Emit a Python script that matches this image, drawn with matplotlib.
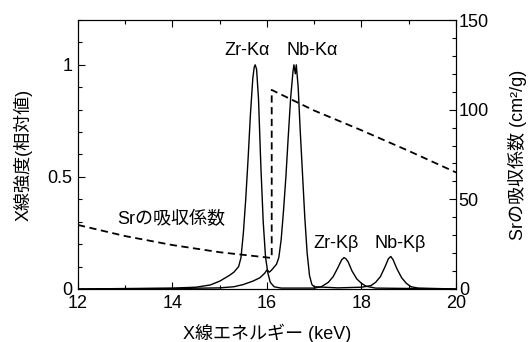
import matplotlib
matplotlib.use("Agg")
import matplotlib.pyplot as plt
from matplotlib.ticker import MultipleLocator

plt.rcParams['font.family'] = ['Liberation Sans', 'Noto Sans CJK JP', 'DejaVu Sans']

# Zr spectrum (energy keV, relative intensity)
zr_E = [12.0, 13.0, 14.0, 14.5, 14.8, 15.0, 15.2, 15.3, 15.4, 15.45, 15.5, 15.55, 15.6,
        15.65, 15.7, 15.73, 15.75, 15.78, 15.82, 15.87, 15.92, 15.97, 16.02, 16.07,
        16.15, 16.3, 17.0, 17.15, 17.3, 17.4, 17.5, 17.58, 17.63, 17.67, 17.72, 17.8,
        17.9, 18.0, 18.1, 18.3, 20.0]
zr_I = [0.0, 0.002, 0.004, 0.008, 0.018, 0.035, 0.06, 0.075, 0.10, 0.14, 0.25, 0.40,
        0.58, 0.78, 0.94, 0.99, 1.0, 0.98, 0.85, 0.55, 0.30, 0.14, 0.07, 0.03,
        0.01, 0.004, 0.004, 0.01, 0.03, 0.055, 0.095, 0.13, 0.14, 0.135, 0.12, 0.08,
        0.045, 0.025, 0.012, 0.004, 0.0]

# Nb spectrum
nb_E = [12.0, 14.0, 15.0, 15.3, 15.5, 15.7, 15.85, 15.95, 16.0, 16.05, 16.1, 16.2,
        16.25, 16.3, 16.35, 16.4, 16.45, 16.5, 16.55, 16.57, 16.6, 16.62, 16.66,
        16.7, 16.75, 16.8, 16.85, 16.9, 16.95, 17.0, 17.5, 18.0, 18.2, 18.3, 18.4,
        18.5, 18.57, 18.62, 18.67, 18.75, 18.85, 18.95, 19.05, 19.2, 20.0]
nb_I = [0.0, 0.002, 0.005, 0.01, 0.02, 0.035, 0.05, 0.07, 0.085, 0.075, 0.085, 0.11,
        0.14, 0.22, 0.35, 0.50, 0.68, 0.85, 0.97, 1.0, 0.96, 1.0, 0.90,
        0.72, 0.52, 0.32, 0.16, 0.06, 0.02, 0.01, 0.005, 0.008, 0.015, 0.03, 0.055,
        0.10, 0.135, 0.145, 0.13, 0.09, 0.05, 0.025, 0.01, 0.004, 0.0]

# Sr mass absorption coefficient (cm2/g)
sr_E = [12.0, 13.0, 14.0, 15.0, 16.1, 16.1, 17.0, 18.0, 19.0, 20.0]
sr_mu = [35.7, 29.5, 24.5, 20.5, 17.3, 111.0, 99.5, 88.5, 77.0, 65.0]

fig = plt.figure(figsize=(5.29, 3.42), dpi=100)
ax = fig.add_axes([0.1474, 0.155, 0.862 - 0.1474, 0.9415 - 0.155])
ax2 = ax.twinx()

ax.plot(zr_E, zr_I, color='black', lw=1.0)
ax.plot(nb_E, nb_I, color='black', lw=1.0)
ax2.plot(sr_E, sr_mu, color='black', lw=1.3, linestyle=(0, (4, 2.5)))

ax.set_xlim(12, 20)
ax.set_ylim(0, 1.2)
ax2.set_ylim(0, 150)

ax.xaxis.set_major_locator(MultipleLocator(2))
ax.xaxis.set_minor_locator(MultipleLocator(1))
ax.yaxis.set_major_locator(MultipleLocator(0.5))
ax.yaxis.set_minor_locator(MultipleLocator(0.1))
ax2.yaxis.set_major_locator(MultipleLocator(50))
ax2.yaxis.set_minor_locator(MultipleLocator(10))
ax.set_yticks([0, 0.5, 1])
ax.set_yticklabels(['0', '0.5', '1'])

for a in (ax, ax2):
    a.tick_params(which='both', direction='in', labelsize=13, width=0.8)
    a.tick_params(which='major', length=5)
    a.tick_params(which='minor', length=3)
ax.tick_params(which='both', top=True, right=False)
ax.tick_params(axis='x', pad=4)
ax.tick_params(axis='y', pad=4)
ax2.tick_params(axis='y', pad=2)

ax.set_xlabel('X線エネルギー (keV)', fontsize=13, va='center')
ax.xaxis.set_label_coords(0.5, -0.1636)
ax.set_ylabel('X線強度(相対値)', fontsize=13, va='center')
ax.yaxis.set_label_coords(-0.145, 0.5)
ax2.set_ylabel('Srの吸収係数 (cm²/g)', fontsize=13, va='center')
ax2.yaxis.set_label_coords(1.163, 0.5)

ax.text(15.58, 1.045, 'Zr-Kα', fontsize=13, ha='center', va='baseline')
ax.text(16.96, 1.045, 'Nb-Kα', fontsize=13, ha='center', va='baseline')
ax.text(17.47, 0.183, 'Zr-Kβ', fontsize=13, ha='center', va='baseline')
ax.text(18.81, 0.183, 'Nb-Kβ', fontsize=13, ha='center', va='baseline')
ax.text(13.98, 0.29, 'Srの吸収係数', fontsize=13, ha='center', va='baseline')

fig.savefig('out.png', dpi=100)
